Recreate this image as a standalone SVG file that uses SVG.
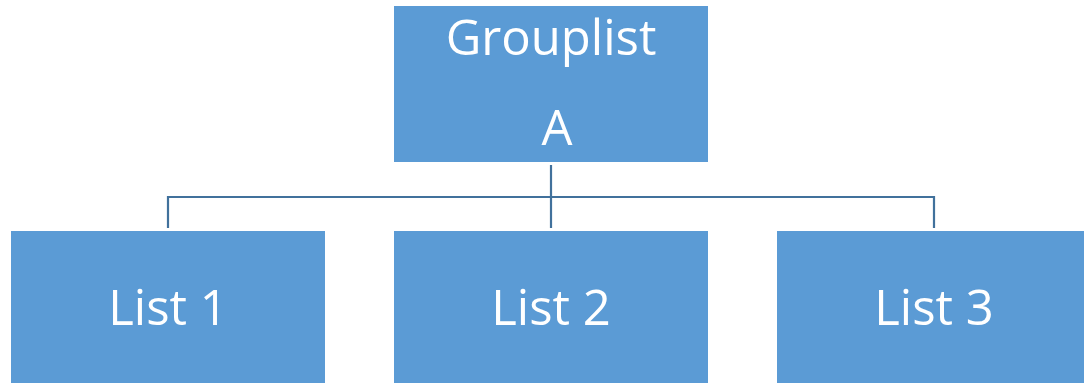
<svg xmlns="http://www.w3.org/2000/svg" width="1084" height="383" viewBox="0 0 1084 383">
  <style>
    .box { fill: #5B9BD5; }
    .label { fill: #FFFFFF; font-family: "Open Sans", "Liberation Sans", sans-serif; font-size: 49px; text-anchor: middle; }
    .wire { fill: none; stroke: #41719C; stroke-width: 2.2; }
  </style>
  <rect width="1084" height="383" fill="#FFFFFF"/>
  <g id="connectors">
    <path class="wire" d="M551 165 V228"/>
    <path class="wire" d="M168 228 V197 H934 V228"/>
  </g>
  <g id="groupA">
    <rect class="box" x="394" y="6" width="314" height="156"/>
    <text class="label" x="551" y="55">Grouplist</text>
    <text class="label" x="557" y="145">A</text>
  </g>
  <g id="list1">
    <rect class="box" x="11" y="231" width="314" height="152"/>
    <text class="label" x="168" y="325">List 1</text>
  </g>
  <g id="list2">
    <rect class="box" x="394" y="231" width="314" height="152"/>
    <text class="label" x="551" y="325">List 2</text>
  </g>
  <g id="list3">
    <rect class="box" x="777" y="231" width="307" height="152"/>
    <text class="label" x="934" y="325">List 3</text>
  </g>
</svg>
